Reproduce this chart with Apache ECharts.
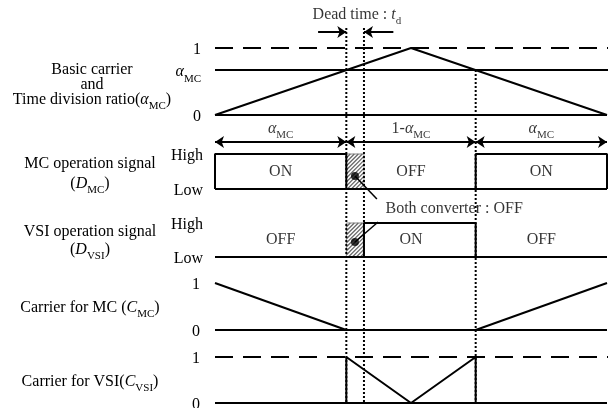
<!DOCTYPE html>
<html><head><meta charset="utf-8">
<script src="https://cdn.jsdelivr.net/npm/echarts@6/dist/echarts.min.js"></script>
<style>html,body{margin:0;padding:0;background:#fff}#c{width:613px;height:408px}</style>
</head><body><div id="c"></div>
<script>
// ---------- data (time t in one carrier period, 0..1) ----------
const alphaMC = 0.67;
const tCross1 = 0.335;     // carrier crosses alpha (rising)
const tDeadEnd = 0.38;     // end of dead time
const tCross2 = 0.665;     // carrier crosses alpha (falling)
const basicCarrier = [[0, 0], [0.5, 1], [1, 0]];
const mcHighIntervals = [[0, 0.335], [0.665, 1]];
const vsiHighIntervals = [[0.38, 0.665]];
const deadBand = [[0.335, 0.38]];
const mcCarrierA = [[0, 1], [0.335, 0]];
const mcCarrierB = [[0.665, 0], [1, 1]];
const vsiCarrier = [[0.335, 0], [0.335, 1], [0.5, 0], [0.665, 1], [0.665, 0]];
const mcStateLabels = [[0.1675, 0.5, 'ON'], [0.5, 0.5, 'OFF'], [0.8325, 0.5, 'ON']];
const vsiStateLabels = [[0.1675, 0.5, 'OFF'], [0.5, 0.5, 'ON'], [0.8325, 0.5, 'OFF']];
const basicTickValues = [0, 0.67, 1];
const basicTickLabels = ['0', '{a|α}{s|MC}', '1'];
const signalTickValues = [0, 1];
const signalTickLabels = ['Low', 'High'];
const carrierTickValues = [0, 1];
const carrierTickLabels = ['0', '1'];
const periodArrows = [[0, 0.335], [0.335, 0.665], [0.665, 1]];
const periodArrowLabels = ['{a|α}{s|MC}', '{n|1-}{a|α}{s|MC}', '{a|α}{s|MC}'];

// ---------- style / layout ----------
const SERIF = '"Liberation Serif", "Times New Roman", serif';
const FS = 16;
const RICH = {
  n: {fontFamily: SERIF, fontSize: FS, lineHeight: 18, padding: [4, 0, 0, 0], color: '#000'},
  a: {fontFamily: SERIF, fontSize: FS, fontStyle: 'italic', lineHeight: 18, padding: [4, 0, 0, 0], color: '#000'},
  s: {fontFamily: SERIF, fontSize: 11, lineHeight: 11, verticalAlign: 'top', padding: [12, 0, 0, 0], color: '#000'}
};
const ROWS = [
  {top: 48, height: 67},
  {top: 154, height: 35},
  {top: 223, height: 34},
  {top: 283, height: 47},
  {top: 357, height: 46}
];
const LEFT = 215, RIGHT = 6;
const XEXT = 1.013;

const grids = [{left: LEFT, right: RIGHT, top: 0, bottom: 0, outerBoundsMode: 'none'}];
ROWS.forEach(r => grids.push({left: LEFT, right: RIGHT, top: r.top, height: r.height, outerBoundsMode: 'none'}));
const xAxes = grids.map((g, i) => ({type: 'value', gridIndex: i, min: 0, max: 1, show: false}));
function rowY(i, values, labels, margin) {
  return {
    type: 'value', gridIndex: i, min: 0, max: 1,
    axisLine: {show: false}, axisTick: {show: false}, splitLine: {show: false},
    axisLabel: {
      show: true, customValues: values, margin: margin,
      formatter: v => { const k = values.findIndex(x => Math.abs(x - v) < 1e-6); return k >= 0 ? (labels[k].indexOf('{') === 0 ? labels[k] : '{n|' + labels[k] + '}') : ''; },
      rich: RICH, color: '#000', fontFamily: SERIF, fontSize: FS
    }
  };
}
const yAxes = [
  {type: 'value', gridIndex: 0, min: 0, max: 408, inverse: true, show: false},
  rowY(1, basicTickValues, basicTickLabels, 14),
  rowY(2, signalTickValues, signalTickLabels, 12),
  rowY(3, signalTickValues, signalTickLabels, 12),
  rowY(4, carrierTickValues, carrierTickLabels, 15),
  rowY(5, carrierTickValues, carrierTickLabels, 15)
];

const series = [];
function line(g, data, opt) {
  opt = opt || {};
  series.push({
    type: 'line', xAxisIndex: g, yAxisIndex: g, data: data, showSymbol: false, symbol: 'none',
    clip: false, silent: true, animation: false, z: opt.z || 3,
    lineStyle: {color: '#000', width: opt.width || 2, type: opt.type || 'solid', cap: 'butt'}
  });
}
function textSeries(g, data, fs) {
  series.push({
    type: 'scatter', xAxisIndex: g, yAxisIndex: g, data: data, symbolSize: 1, silent: true, animation: false,
    itemStyle: {color: 'rgba(0,0,0,0)'}, z: 5,
    label: {show: true, position: 'inside', formatter: p => p.value[2], rich: RICH, color: '#000', fontFamily: SERIF, fontSize: fs || FS}
  });
}
function hatch(g) {
  series.push({
    type: 'custom', xAxisIndex: g, yAxisIndex: g, data: deadBand, silent: true, animation: false, z: 1, clip: false,
    renderItem: (params, api) => {
      const p0 = api.coord([api.value(0), 1]);
      const p1 = api.coord([api.value(1), 0]);
      const x0 = p0[0], y0 = p0[1], x1 = p1[0], y1 = p1[1];
      const w = x1 - x0, h = y1 - y0;
      const children = [{type: 'rect', shape: {x: x0, y: y0, width: w, height: h}, style: {fill: '#fff', stroke: '#888', lineWidth: 1}}];
      for (let k = -h; k < w; k += 4) {
        const s0 = Math.max(0, -k), s1 = Math.min(h, w - k);
        if (s1 <= s0) continue;
        children.push({type: 'line', shape: {x1: x0 + k + s0, y1: y1 - s0, x2: x0 + k + s1, y2: y1 - s1}, style: {stroke: '#666', lineWidth: 1.2}});
      }
      return {type: 'group', children: children};
    }
  });
}

// Row 1: basic carrier and alpha
line(1, [[0, 1], [XEXT, 1]], {type: [18, 10]});
line(1, [[0, alphaMC], [XEXT, alphaMC]]);
line(1, [[0, 0], [1, 0]]);
line(1, basicCarrier);
// Row 2: MC operation signal
hatch(2);
line(2, [[0, 0], [1, 0]]);
mcHighIntervals.forEach(iv => line(2, [[iv[0], 0], [iv[0], 1], [iv[1], 1], [iv[1], 0]]));
textSeries(2, mcStateLabels);
// Row 3: VSI operation signal
hatch(3);
line(3, [[0, 0], [1, 0]]);
vsiHighIntervals.forEach(iv => line(3, [[iv[0], 0], [iv[0], 1], [iv[1], 1], [iv[1], 0]]));
textSeries(3, vsiStateLabels);
// Row 4: MC carrier
line(4, [[0, 0], [1, 0]]);
line(4, mcCarrierA);
line(4, mcCarrierB);
// Row 5: VSI carrier
line(5, [[0, 1], [XEXT, 1]], {type: [18, 10]});
line(5, [[0, 0], [1, 0]]);
line(5, vsiCarrier);

// Overlay annotations (grid 0, y in pixels)
[[tCross1, 28], [tDeadEnd, 28], [tCross2, 70]].forEach(d => line(0, [[d[0], d[1]], [d[0], 404]], {type: [2, 2], width: 2, z: 2}));
series.push({
  type: 'lines', coordinateSystem: 'cartesian2d', xAxisIndex: 0, yAxisIndex: 0, silent: true, animation: false, z: 4,
  symbol: ['arrow', 'arrow'], symbolSize: 9,
  lineStyle: {color: '#000', width: 2, opacity: 1},
  data: periodArrows.map(iv => ({coords: [[iv[0], 142], [iv[1], 142]]}))
});
series.push({
  type: 'lines', coordinateSystem: 'cartesian2d', xAxisIndex: 0, yAxisIndex: 0, silent: true, animation: false, z: 4,
  symbol: ['none', 'arrow'], symbolSize: 9,
  lineStyle: {color: '#000', width: 2, opacity: 1},
  data: [{coords: [[0.263, 32], [tCross1, 32]]}, {coords: [[0.455, 32], [tDeadEnd, 32]]}]
});
textSeries(0, periodArrows.map((iv, i) => [(iv[0] + iv[1]) / 2, 127, periodArrowLabels[i]]));
textSeries(0, [[0.362, 13, '{n|Dead time : }{a|t}{s|d}']]);
textSeries(0, [[0.61, 207, '{n|Both converter : OFF}']]);
line(0, [[0.357, 176], [0.413, 199]], {width: 1.5});
line(0, [[0.357, 242], [0.416, 222]], {width: 1.5});
series.push({
  type: 'scatter', xAxisIndex: 0, yAxisIndex: 0, data: [[0.357, 176], [0.357, 242]], symbolSize: 8,
  itemStyle: {color: '#000'}, silent: true, animation: false, z: 6
});

function gtext(x, y, t) {
  return {type: 'text', x: x, y: y, silent: true,
    style: {text: t, rich: RICH, fill: '#000', font: FS + 'px ' + SERIF, align: 'center', verticalAlign: 'middle'}};
}
const graphic = [
  gtext(92, 68, '{n|Basic carrier}'),
  gtext(92, 83, '{n|and}'),
  gtext(92, 98, '{n|Time division ratio(}{a|α}{s|MC}{n|)}'),
  gtext(90, 162, '{n|MC operation signal}'),
  gtext(90, 182, '{n|(}{a|D}{s|MC}{n|)}'),
  gtext(90, 230, '{n|VSI operation signal}'),
  gtext(90, 248, '{n|(}{a|D}{s|VSI}{n|)}'),
  gtext(90, 306, '{n|Carrier for MC (}{a|C}{s|MC}{n|)}'),
  gtext(90, 380, '{n|Carrier for VSI(}{a|C}{s|VSI}{n|)}')
];

const chart = echarts.init(document.getElementById('c'), null, {renderer: 'canvas'});
chart.setOption({
  backgroundColor: '#fff', animation: false,
  grid: grids, xAxis: xAxes, yAxis: yAxes, series: series, graphic: graphic
});
</script></body></html>
